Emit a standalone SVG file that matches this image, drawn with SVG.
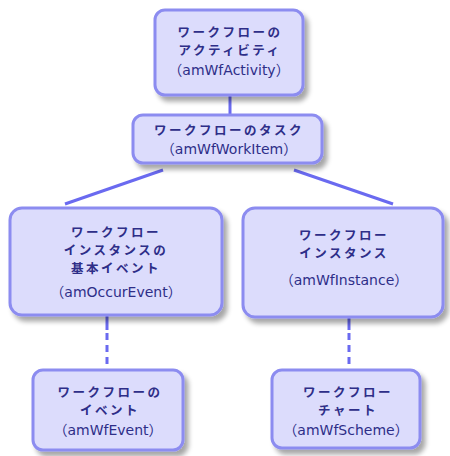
<svg xmlns="http://www.w3.org/2000/svg" width="450" height="456" viewBox="0 0 450 456">
<defs>
<filter id="sh" x="-10%" y="-10%" width="130%" height="140%">
<feGaussianBlur in="SourceAlpha" stdDeviation="2.5"/>
<feOffset dx="4" dy="5" result="b"/>
<feComponentTransfer><feFuncA type="linear" slope="0.35"/></feComponentTransfer>
<feMerge><feMergeNode/><feMergeNode in="SourceGraphic"/></feMerge>
</filter>
<style>
.box{fill:#dcdcfc;stroke:#8c8cf0;stroke-width:3;filter:url(#sh)}
.jp{font-family:"Noto Sans CJK JP","Noto Sans",sans-serif;font-size:12.5px;font-weight:bold;letter-spacing:2.5px;fill:#2e2e88;text-anchor:middle}
.en{font-family:"DejaVu Sans","Noto Sans CJK JP",sans-serif;font-size:14px;fill:#2e2e88;text-anchor:middle}
.ln{stroke:#6a6af0;stroke-width:3;fill:none}
.dl{stroke:#6a6af0;stroke-width:3;fill:none;stroke-dasharray:7,5}
</style>
</defs>
<rect width="450" height="456" fill="#ffffff"/>
<g id="connectors">
<line class="ln" x1="230" y1="95" x2="230" y2="115"/>
<line class="ln" x1="163" y1="170" x2="65" y2="204"/>
<line class="ln" x1="294" y1="170" x2="393" y2="204"/>
<line class="ln" x1="107" y1="316" x2="107" y2="330"/>
<line class="dl" x1="107" y1="333" x2="107" y2="368"/>
<line class="ln" x1="349" y1="317" x2="349" y2="330"/>
<line class="dl" x1="349" y1="333" x2="349" y2="368"/>
</g>
<g id="activity">
<rect class="box" x="155" y="10" width="148" height="85" rx="10"/>
<text class="jp" x="230" y="37">ワークフローの</text>
<text class="jp" x="230" y="55">アクティビティ</text>
<text class="en" x="229" y="75">（amWfActivity）</text>
</g>
<g id="workitem">
<rect class="box" x="133" y="115" width="189" height="48" rx="10"/>
<text class="jp" x="229" y="135">ワークフローのタスク</text>
<text class="en" x="229" y="154">（amWfWorkItem）</text>
</g>
<g id="occurevent">
<rect class="box" x="10" y="208" width="212" height="107" rx="12"/>
<text class="jp" x="116" y="237">ワークフロー</text>
<text class="jp" x="116" y="255">インスタンスの</text>
<text class="jp" x="116" y="273">基本イベント</text>
<text class="en" x="116" y="297">（amOccurEvent）</text>
</g>
<g id="instance">
<rect class="box" x="243" y="208" width="200" height="109" rx="12"/>
<text class="jp" x="344" y="240">ワークフロー</text>
<text class="jp" x="344" y="258">インスタンス</text>
<text class="en" x="344" y="285">（amWfInstance）</text>
</g>
<g id="event">
<rect class="box" x="33" y="370" width="150" height="80" rx="10"/>
<text class="jp" x="110" y="397">ワークフローの</text>
<text class="jp" x="110" y="415">イベント</text>
<text class="en" x="108" y="435">（amWfEvent）</text>
</g>
<g id="scheme">
<rect class="box" x="272" y="370" width="148" height="78" rx="10"/>
<text class="jp" x="348" y="397">ワークフロー</text>
<text class="jp" x="348" y="415">チャート</text>
<text class="en" x="346" y="435">（amWfScheme）</text>
</g>
</svg>
